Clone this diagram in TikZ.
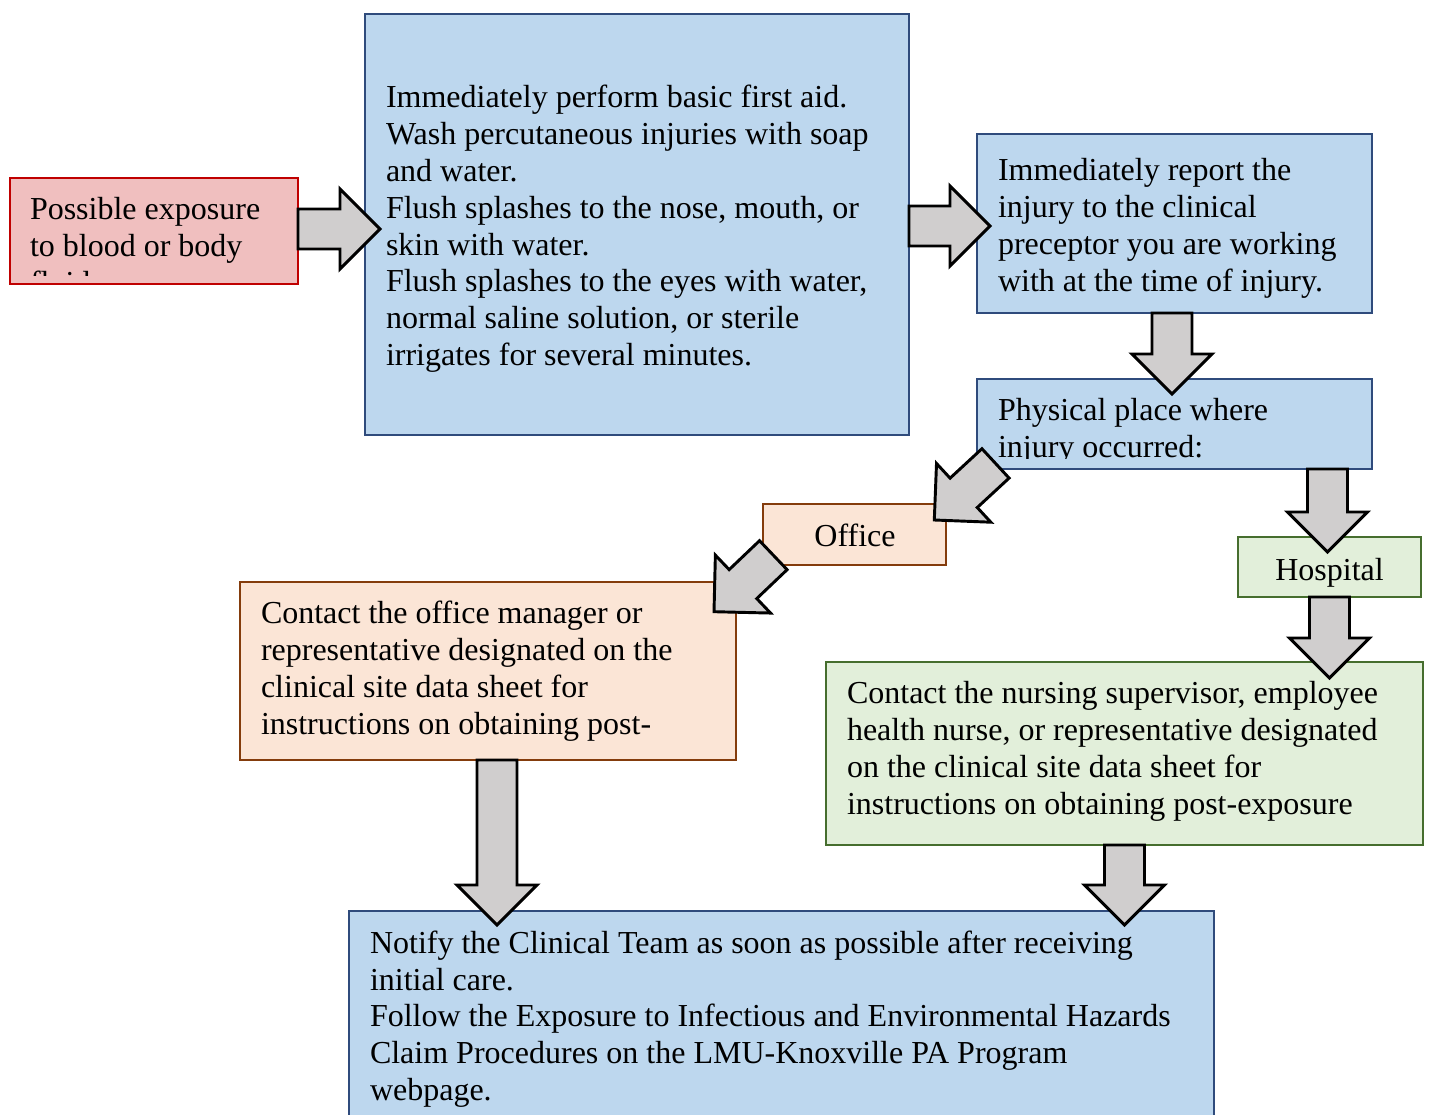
\documentclass[tikz,border=0pt]{standalone}
\usepackage{fontspec}
\setmainfont{Liberation Serif}
\usetikzlibrary{calc,fit}
\definecolor{bluefill}{HTML}{BDD7EE}
\definecolor{blueline}{HTML}{2F4B7C}
\definecolor{redfill}{HTML}{F0BFBF}
\definecolor{redline}{HTML}{C00000}
\definecolor{orfill}{HTML}{FBE5D6}
\definecolor{orline}{HTML}{843C0C}
\definecolor{grfill}{HTML}{E2EFDA}
\definecolor{grline}{HTML}{466E2E}
\definecolor{arrowfill}{HTML}{D0CECE}
\tikzset{
  box/.style={draw, line width=0.8pt, inner sep=0pt, outer sep=0pt, rectangle},
  bluebox/.style={box, draw=blueline, fill=bluefill},
  redbox/.style={box, draw=redline, fill=redfill},
  orbox/.style={box, draw=orline, fill=orfill},
  grbox/.style={box, draw=grline, fill=grfill},
  txt/.style={font=\fontsize{12}{13.8}\selectfont, align=left, inner sep=0pt, outer sep=0pt, anchor=north west},
  ctxt/.style={font=\fontsize{12}{13.8}\selectfont, inner sep=0pt, outer sep=0pt, anchor=base},
  barrow/.style={draw=black, fill=arrowfill, line width=1.1pt, line join=miter},
}
\newcommand{\blockarrow}[2]{%
  \coordinate (#1h) at ($(#2)!15pt!(#1)$);
  \draw[barrow] ($(#1)!7.5pt!90:(#2)$) -- ($(#1h)!7.5pt!90:(#2)$) -- ($(#1h)!15pt!90:(#2)$) -- (#2)
    -- ($(#1h)!15pt!-90:(#2)$) -- ($(#1h)!7.5pt!-90:(#2)$) -- ($(#1)!7.5pt!-90:(#2)$) -- cycle;}
\begin{document}
\begin{tikzpicture}[x=0.375pt,y=-0.375pt]
\useasboundingbox (0,0) rectangle (1429,1115);
\clip (0,0) rectangle (1429,1115);
% boxes
\node[redbox, fit={(10,178) (298,284)}] (red) {};
\node[bluebox, fit={(365,14) (909,435)}] (main) {};
\node[bluebox, fit={(977,134) (1372,313)}] (rep) {};
\node[bluebox, fit={(977,379) (1372,469)}] (place) {};
\node[orbox, fit={(763,504) (946,565)}] (office) {};
\node[grbox, fit={(1238,537) (1421,597)}] (hosp) {};
\node[orbox, fit={(240,582) (736,760)}] (oc) {};
\node[grbox, fit={(826,662) (1423,845)}] (green) {};
\node[bluebox, fit={(349,911) (1214,1135)}] (bottom) {};
% texts
\begin{scope}
  \clip (red.north west) rectangle ($(red.south east)+(0,-8)$);
  \node[txt] (tred) at (30,194) {\strut Possible exposure\\to blood or body\\fluids};
\end{scope}
\node[txt] (tmain) at (386,82.2) {\strut Immediately perform basic first aid.\\Wash percutaneous injuries with soap\\and water.\\Flush splashes to the nose, mouth, or\\skin with water.\\Flush splashes to the eyes with water,\\normal saline solution, or sterile\\irrigates for several minutes.};
\node[txt] (trep) at (998,155.2) {\strut Immediately report the\\injury to the clinical\\preceptor you are working\\with at the time of injury.};
\begin{scope}
  \clip (place.north west) rectangle ($(place.south east)+(0,-11)$);
  \node[txt] (tplace) at (998,395) {\strut Physical place where\\injury occurred:};
\end{scope}
\node[ctxt] (toffice) at (855,546.5) {Office};
\node[ctxt] (thosp) at (1329.5,580.5) {Hospital};
\node[txt] (toc) at (261,598.2) {\strut Contact the office manager or\\representative designated on the\\clinical site data sheet for\\instructions on obtaining post-};
\node[txt] (tgreen) at (847,678) {\strut Contact the nursing supervisor, employee\\health nurse, or representative designated\\on the clinical site data sheet for\\instructions on obtaining post-exposure};
\node[txt] (tbottom) at (370,927.5) {\strut Notify the Clinical Team as soon as possible after receiving\\initial care.\\Follow the Exposure to Infectious and Environmental Hazards\\Claim Procedures on the LMU-Knoxville PA Program\\webpage.};
% arrow end points
\coordinate (a1s) at ($(red.east)+(0,-2)$);
\coordinate (a1t) at ($(a1s -| main.west)+(15,0)$);
\coordinate (a2s) at ($(main.east)+(0,1.5)$);
\coordinate (a2t) at ($(a2s -| rep.west)+(13,0)$);
\coordinate (a3s) at ($(rep.south)+(-2.5,0)$);
\coordinate (a3t) at ($(a3s |- place.north)+(0,15)$);
\coordinate (a4s) at ($(place.south -| hosp.north)+(-2,0)$);
\coordinate (a4t) at ($(a4s |- hosp.north)+(0,15)$);
\coordinate (a5s) at (hosp.south);
\coordinate (a5t) at ($(a5s |- green.north)+(0,16)$);
\coordinate (a6s) at (green.south);
\coordinate (a6t) at ($(a6s |- bottom.north)+(0,14)$);
\coordinate (a7s) at ($(oc.south)+(9,0)$);
\coordinate (a7t) at ($(a7s |- bottom.north)+(0,14)$);
\coordinate (d1s) at ($(place.south west)+(18.5,-5.6)$);
\coordinate (d1t) at ($(office.north east)+(-11.7,16)$);
\coordinate (d2s) at ($(office.south west)+(10.3,-9.8)$);
\coordinate (d2t) at ($(oc.north east)+(-22,29.7)$);
% arrows
\blockarrow{a1s}{a1t}
\blockarrow{a2s}{a2t}
\blockarrow{a3s}{a3t}
\blockarrow{a4s}{a4t}
\blockarrow{a5s}{a5t}
\blockarrow{a6s}{a6t}
\blockarrow{a7s}{a7t}
\blockarrow{d1s}{d1t}
\blockarrow{d2s}{d2t}
\end{tikzpicture}
\end{document}
